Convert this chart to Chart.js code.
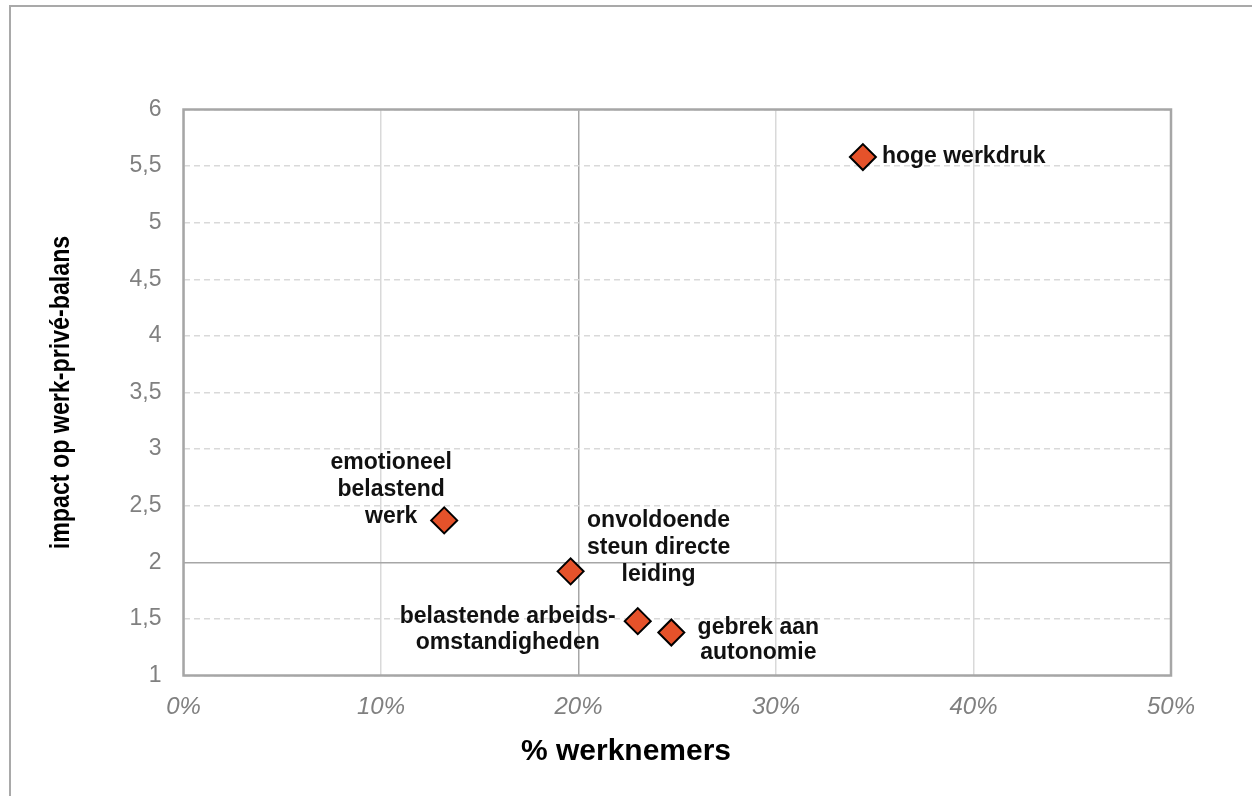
<!DOCTYPE html>
<html><head><meta charset="utf-8">
<script src="https://cdn.jsdelivr.net/npm/chart.js@4.4.1/dist/chart.umd.min.js"></script>
<style>
html,body{margin:0;padding:0;background:#fff;overflow:hidden}
#wrap{position:relative;width:1252px;height:796px}
#frame{position:absolute;left:9px;top:5px;width:1300px;height:900px;border-top:2px solid #a9a9a9;border-left:2px solid #a9a9a9;pointer-events:none}
canvas{position:absolute;left:0;top:0}
</style></head><body>
<div id="wrap"><canvas id="c" width="1252" height="796"></canvas><div id="frame"></div></div>
<script>
// ---- data ----
const categories = ['hoge werkdruk', 'emotioneel belastend werk', 'onvoldoende steun directe leiding', 'belastende arbeidsomstandigheden', 'gebrek aan autonomie'];
const pctWerknemers = [34.4, 13.2, 19.6, 23.0, 24.7];
const impactBalans = [5.58, 2.37, 1.92, 1.48, 1.38];
const pointLabels = [
  ['hoge werkdruk'],
  ['emotioneel', 'belastend', 'werk'],
  ['onvoldoende', 'steun directe', 'leiding'],
  ['belastende arbeids-', 'omstandigheden'],
  ['gebrek aan', 'autonomie']
];
const xTicks = [0, 10, 20, 30, 40, 50];
const yTicks = [1, 1.5, 2, 2.5, 3, 3.5, 4, 4.5, 5, 5.5, 6];
const xTitle = '% werknemers';
const yTitle = 'impact op werk-privé-balans';

// ---- label placement (style only) ----
const labelStyle = [
  {align: 'left', dx: 19, dy: [0]},
  {align: 'center', dx: -53, dy: [-58, -31, -4]},
  {align: 'center', dx: 88, dy: [-51, -24, 3]},
  {align: 'center', dx: -130, dy: [-5, 21]},
  {align: 'center', dx: 87, dy: [-5, 20]}
];

const points = pctWerknemers.map((x, i) => ({x: x, y: impactBalans[i]}));

const framePlugin = {
  id: 'frame',
  beforeDatasetsDraw(chart) {
    const a = chart.chartArea, ctx = chart.ctx;
    ctx.save();
    ctx.strokeStyle = '#a6a6a6';
    ctx.lineWidth = 2.5;
    ctx.strokeRect(a.left, a.top, a.right - a.left, a.bottom - a.top);
    ctx.restore();
  }
};

const labelPlugin = {
  id: 'pointLabels',
  afterDatasetsDraw(chart) {
    const ctx = chart.ctx;
    const meta = chart.getDatasetMeta(0);
    ctx.save();
    ctx.font = 'bold 23px "Liberation Sans", Arial, sans-serif';
    ctx.fillStyle = '#111';
    ctx.textBaseline = 'middle';
    meta.data.forEach((pt, i) => {
      const st = labelStyle[i];
      ctx.textAlign = st.align;
      pointLabels[i].forEach((line, j) => {
        ctx.fillText(line, pt.x + st.dx, pt.y + st.dy[j]);
      });
    });
    ctx.restore();
  }
};

const titlesPlugin = {
  id: 'axisTitles',
  afterDraw(chart) {
    const ctx = chart.ctx, a = chart.chartArea;
    ctx.save();
    ctx.font = 'bold 30px "Liberation Sans", Arial, sans-serif';
    ctx.fillStyle = '#000';
    ctx.textAlign = 'center';
    ctx.textBaseline = 'middle';
    ctx.fillText(xTitle, chart.width / 2, 752);
    ctx.restore();

    ctx.save();
    ctx.translate(62, (a.top + a.bottom) / 2);
    ctx.rotate(-Math.PI / 2);
    ctx.scale(0.86, 1);
    ctx.font = 'bold 27px "Liberation Sans", Arial, sans-serif';
    ctx.fillStyle = '#000';
    ctx.textAlign = 'center';
    ctx.textBaseline = 'middle';
    ctx.fillText(yTitle, 0, 0);
    ctx.restore();
  }
};

new Chart(document.getElementById('c'), {
  type: 'scatter',
  data: {
    labels: categories,
    datasets: [{
      label: 'risico',
      data: points,
      pointStyle: 'rectRot',
      pointRadius: 13,
      pointHoverRadius: 13,
      backgroundColor: '#E5522A',
      borderColor: '#000',
      borderWidth: 2
    }]
  },
  options: {
    responsive: false,
    animation: false,
    devicePixelRatio: 1,
    layout: {padding: {top: 109.5, right: 81, bottom: 0, left: 0}},
    plugins: {legend: {display: false}, tooltip: {enabled: false}, title: {display: false}},
    scales: {
      x: {
        type: 'linear', min: 0, max: 50,
        afterBuildTicks: s => { s.ticks = xTicks.map(v => ({value: v})); },
        afterFit: s => { s.height = 120.5; },
        ticks: {
          callback: v => v + '%',
          font: {family: '"Liberation Sans", Arial, sans-serif', size: 24, style: 'italic'},
          color: '#808080',
          padding: 17,
          maxRotation: 0
        },
        grid: {
          drawTicks: false,
          color: c => (c.tick && c.tick.value === 20) ? '#a6a6a6' : '#d9d9d9',
          lineWidth: 1.5
        },
        border: {display: false}
      },
      y: {
        type: 'linear', min: 1, max: 6,
        afterBuildTicks: s => { s.ticks = yTicks.map(v => ({value: v})); },
        afterFit: s => { s.width = 183.5; },
        ticks: {
          callback: v => String(v).replace('.', ','),
          font: {family: '"Liberation Sans", Arial, sans-serif', size: 23},
          color: '#808080',
          padding: 22
        },
        grid: {
          drawTicks: false,
          color: c => (c.tick && c.tick.value === 2) ? '#a6a6a6' : '#d9d9d9',
          lineWidth: 1.5
        },
        border: {
          display: false,
          dash: c => (c.tick && c.tick.value !== 2) ? [6, 4] : []
        },
        title: {display: false}
      }
    }
  },
  plugins: [framePlugin, labelPlugin, titlesPlugin]
});
</script>
</body></html>
